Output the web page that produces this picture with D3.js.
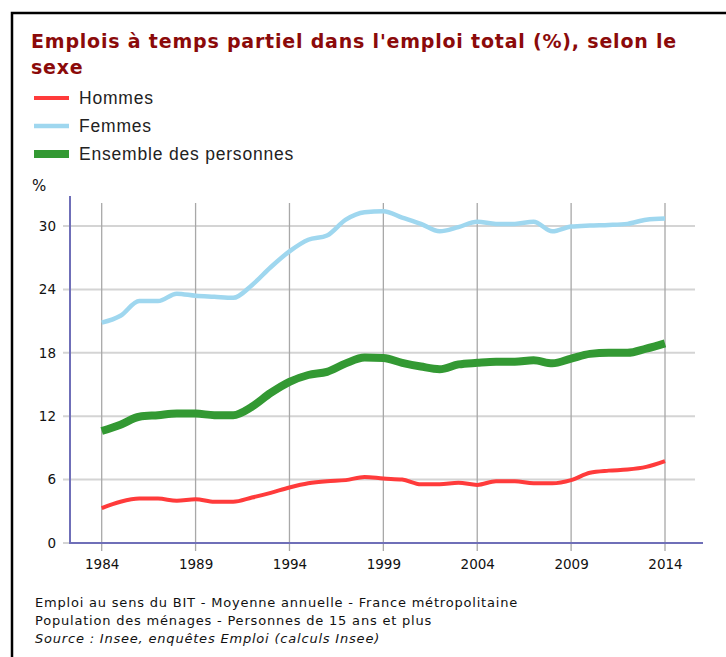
<!DOCTYPE html>
<html>
<head>
<meta charset="utf-8">
<script src="https://cdn.jsdelivr.net/npm/d3@7"></script>
<style>
  body { margin: 0; background: #fff; }
  svg { display: block; }
</style>
</head>
<body>
<div id="chart"></div>
<script>
const years = d3.range(1984, 2015);
const hommes = [3.3, 3.9, 4.2, 4.2, 4.0, 4.15, 3.9, 3.9, 4.3, 4.75, 5.25, 5.65, 5.85, 5.95, 6.25, 6.1,
  6.0, 5.55, 5.55, 5.7, 5.5, 5.85, 5.85, 5.65, 5.65, 5.95, 6.65, 6.85, 6.95, 7.2, 7.75];
const femmes = [20.85, 21.5, 22.9, 22.9, 23.6, 23.4, 23.3, 23.2, 24.4, 26.1, 27.6, 28.7, 29.1, 30.6, 31.3, 31.4,
  30.8, 30.2, 29.5, 29.9, 30.4, 30.2, 30.2, 30.4, 29.5, 29.95, 30.05, 30.1, 30.2, 30.6, 30.7];
const ensemble = [10.6, 11.2, 11.95, 12.1, 12.25, 12.25, 12.1, 12.1, 12.9, 14.2, 15.25, 15.9, 16.2, 17.0, 17.55, 17.5,
  17.05, 16.7, 16.45, 16.9, 17.05, 17.15, 17.15, 17.3, 17.0, 17.45, 17.9, 18.0, 18.0, 18.4, 18.9];
const yTicks = [0, 6, 12, 18, 24, 30];
const xTicks = [1984, 1989, 1994, 1999, 2004, 2009, 2014];
const seriesNames = ['Hommes', 'Femmes', 'Ensemble des personnes'];
const notes = [
  'Emploi au sens du BIT - Moyenne annuelle - France métropolitaine',
  'Population des ménages - Personnes de 15 ans et plus',
  'Source : Insee, enquêtes Emploi (calculs Insee)'
];

const w = 726;
const h = 657;

const colors = ['#ff3b3b', '#9fd7ef', '#339933'];
const widths = [4, 4.5, 8];

const svg = d3.select('#chart').
append('svg').
attr('width', w).
attr('height', h);

// frame
svg.append('rect').
attr('x', 12).
attr('y', 13).
attr('width', 800).
attr('height', 800).
attr('fill', 'none').
attr('stroke', '#000').
attr('stroke-width', 2.5);

const xScale = d3.scaleLinear().domain([1984, 2014]).range([101.7, 665]);
const yScale = d3.scaleLinear().domain([0, 30]).range([543, 226]);

// title
const title = svg.append('text').
attr('fill', '#8b0a0a').
attr('font-family', 'DejaVu Sans, Verdana, sans-serif').
attr('font-weight', 'bold').
attr('font-size', 19).
attr('letter-spacing', 0.8);
title.append('tspan').attr('x', 31).attr('y', 48).
text("Emplois à temps partiel dans l'emploi total (%), selon le");
title.append('tspan').attr('x', 31).attr('y', 74).text('sexe');

// legend
const legend = svg.append('g');
seriesNames.forEach(function (name, i) {
  const cy = 98 + i * 28;
  legend.append('line').
  attr('x1', 34).attr('x2', 69).
  attr('y1', cy).attr('y2', cy).
  attr('stroke', colors[i]).
  attr('stroke-width', widths[i]);
  legend.append('text').
  attr('x', 79).attr('y', cy + 6).
  attr('font-family', 'Liberation Sans, Arial, sans-serif').
  attr('font-size', 17.5).
  attr('letter-spacing', 0.8).
  attr('fill', '#222').
  text(name);
});

// grid
svg.append('g').
selectAll('line').
data(yTicks).
enter().
append('line').
attr('x1', 63).attr('x2', 695).
attr('y1', d => yScale(d)).attr('y2', d => yScale(d)).
attr('stroke', '#d4d4d4').
attr('stroke-width', 2);

svg.append('g').
selectAll('line').
data(xTicks).
enter().
append('line').
attr('x1', d => xScale(d)).attr('x2', d => xScale(d)).
attr('y1', 203).attr('y2', 551).
attr('stroke', '#a8a8a8').
attr('stroke-width', 1.3);

// axes lines
svg.append('line').
attr('x1', 70).attr('x2', 70).attr('y1', 196).attr('y2', 543).
attr('stroke', '#6f6fb8').attr('stroke-width', 2);
svg.append('line').
attr('x1', 69).attr('x2', 703).attr('y1', 543).attr('y2', 543).
attr('stroke', '#6f6fb8').attr('stroke-width', 2);

// tick labels
const yAxis = d3.axisLeft(yScale).tickValues(yTicks).tickSize(0).tickPadding(14);
svg.append('g').
attr('transform', 'translate(70,0)').
call(yAxis).
call(g => g.select('.domain').remove()).
call(g => g.selectAll('text').
attr('font-family', 'DejaVu Sans, Verdana, sans-serif').
attr('font-size', 13.5).
attr('fill', '#111'));

const xAxis = d3.axisBottom(xScale).tickValues(xTicks).tickFormat(d3.format('d')).tickSize(0).tickPadding(16);
svg.append('g').
attr('transform', 'translate(0,543)').
call(xAxis).
call(g => g.select('.domain').remove()).
call(g => g.selectAll('text').
attr('font-family', 'DejaVu Sans, Verdana, sans-serif').
attr('font-size', 13.5).
attr('fill', '#111'));

svg.append('text').
attr('x', 32).attr('y', 191).
attr('font-family', 'DejaVu Sans, Verdana, sans-serif').
attr('font-size', 15).
attr('fill', '#111').
text('%');

// series
const line = d3.line().
x((d, i) => xScale(years[i])).
y(d => yScale(d)).
curve(d3.curveMonotoneX);

[hommes, femmes, ensemble].forEach(function (values, i) {
  svg.append('path').
  datum(values).
  attr('d', line).
  attr('fill', 'none').
  attr('stroke', colors[i]).
  attr('stroke-width', widths[i]).
  attr('stroke-linejoin', 'round');
});

// notes
svg.selectAll('.note').
data(notes).
enter().
append('text').
attr('class', 'note').
attr('x', 35).
attr('y', (d, i) => 607 + i * 18).
attr('font-family', 'DejaVu Sans, Verdana, sans-serif').
attr('font-size', 13).
attr('letter-spacing', 0.8).
attr('font-style', (d, i) => i === 2 ? 'italic' : 'normal').
attr('fill', '#111').
text(d => d);
</script>
</body>
</html>
